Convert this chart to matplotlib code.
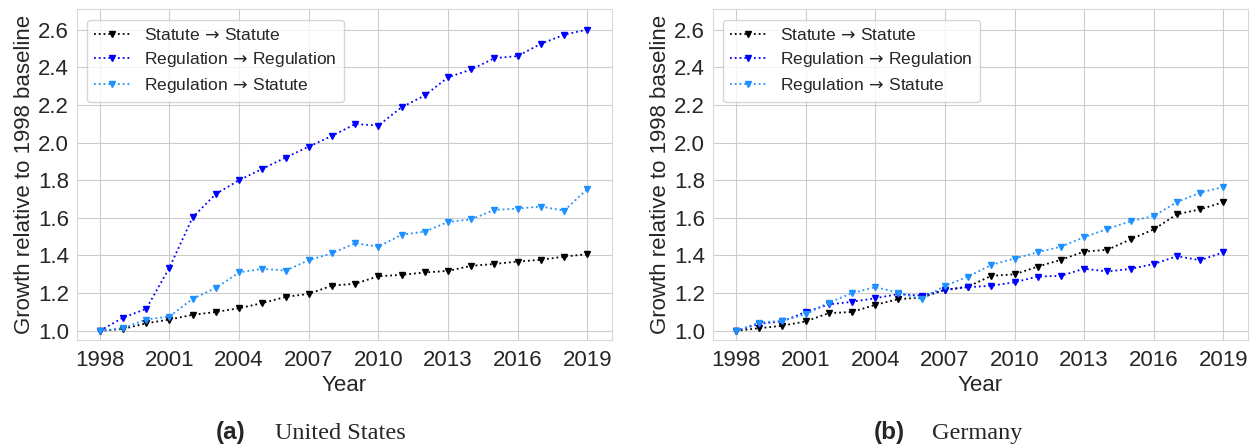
import numpy as np
import matplotlib.pyplot as plt
import seaborn as sns

years = list(range(1998, 2020))

# United States
us_stat_stat = [1.00, 1.01, 1.04, 1.06, 1.085, 1.10, 1.12, 1.147, 1.18, 1.196, 1.24,
                1.25, 1.29, 1.297, 1.31, 1.318, 1.345, 1.355, 1.368, 1.377, 1.394, 1.407]
us_reg_reg = [1.00, 1.07, 1.117, 1.336, 1.603, 1.727, 1.80, 1.86, 1.92, 1.978, 2.035,
              2.098, 2.09, 2.187, 2.25, 2.346, 2.388, 2.448, 2.459, 2.524, 2.572, 2.60]
us_reg_stat = [1.00, 1.014, 1.06, 1.076, 1.17, 1.228, 1.31, 1.329, 1.32, 1.375, 1.412,
               1.465, 1.447, 1.51, 1.527, 1.578, 1.592, 1.642, 1.649, 1.66, 1.638, 1.753]

# Germany
de_stat_stat = [1.00, 1.014, 1.027, 1.05, 1.094, 1.10, 1.138, 1.168, 1.177, 1.217, 1.235,
                1.292, 1.30, 1.341, 1.377, 1.421, 1.43, 1.486, 1.539, 1.619, 1.645, 1.684]
de_reg_reg = [1.00, 1.037, 1.05, 1.10, 1.14, 1.154, 1.173, 1.195, 1.187, 1.217, 1.232,
              1.239, 1.258, 1.288, 1.292, 1.33, 1.315, 1.329, 1.355, 1.396, 1.375, 1.417]
de_reg_stat = [1.00, 1.044, 1.053, 1.088, 1.15, 1.20, 1.232, 1.203, 1.168, 1.239, 1.288,
               1.35, 1.384, 1.417, 1.447, 1.497, 1.541, 1.582, 1.61, 1.684, 1.734, 1.764]

labels = [r'Statute $\!\rightarrow\!$ Statute', r'Regulation $\!\rightarrow\!$ Regulation',
          r'Regulation $\!\rightarrow\!$ Statute']
colors = ['black', 'blue', '#1e90ff']
panels = [
    ('(a)', 'United States', [us_stat_stat, us_reg_reg, us_reg_stat]),
    ('(b)', 'Germany', [de_stat_stat, de_reg_reg, de_reg_stat]),
]

sns.set_style('whitegrid')
plt.rcParams['font.family'] = ['Liberation Sans', 'DejaVu Sans']

fig = plt.figure(figsize=(12.56, 4.46), dpi=100)
axes_pos = [[0.061, 0.238, 0.426, 0.741], [0.5675, 0.238, 0.426, 0.741]]
caption_x = [(0.172, 0.219), (0.696, 0.742)]

for (tag, name, series), pos, (cx_tag, cx_name) in zip(panels, axes_pos, caption_x):
    ax = fig.add_axes(pos)
    for vals, lab, c in zip(series, labels, colors):
        ax.plot(years, vals, ls=':', marker='v', color=c, markersize=5, lw=1.3, label=lab)
    ax.set_xlim(1997, 2020.05)
    ax.set_ylim(0.952, 2.707)
    ax.set_xticks(range(1998, 2020, 3))
    ax.set_yticks(np.arange(1.0, 2.61, 0.2))
    ax.tick_params(axis='x', labelsize=16, pad=4)
    ax.tick_params(axis='y', labelsize=16, pad=2)
    ax.set_xlabel('Year', fontsize=16, labelpad=3)
    ax.set_ylabel('Growth relative to 1998 baseline', fontsize=16, labelpad=2)
    for s in ax.spines.values():
        s.set_color('#d9d9d9')
    ax.legend(loc='upper left', fontsize=12.5, numpoints=1, handlelength=2.1,
              borderaxespad=0.6, labelspacing=0.42, handletextpad=0.8)
    fig.text(cx_tag, 0.015, tag, fontsize=17.5, fontweight='bold', family='Liberation Sans',
             ha='left', va='baseline')
    fig.text(cx_name, 0.015, name, fontsize=17.5, family='Liberation Serif',
             ha='left', va='baseline')

fig.savefig('out.png', dpi=100)
